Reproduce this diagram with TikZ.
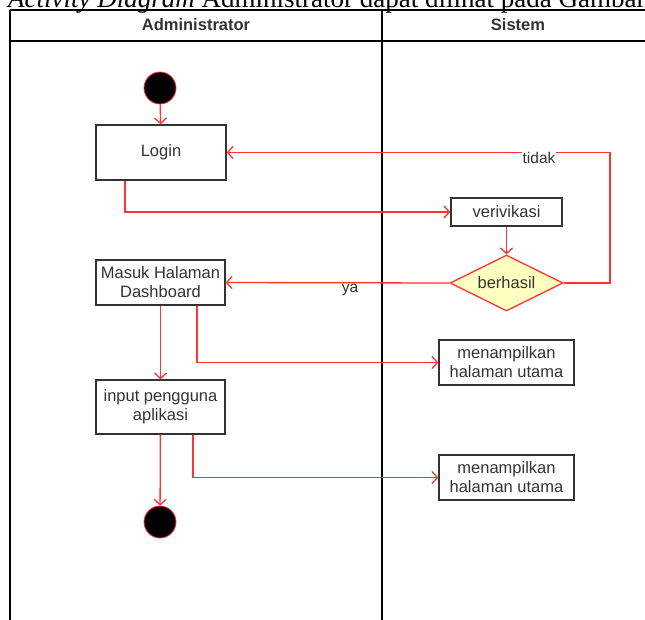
\documentclass[tikz,border=0pt]{standalone}
\usepackage{fontspec}
\setmainfont{Liberation Serif}
\newfontfamily\arialfont{Liberation Sans}
\usetikzlibrary{arrows.meta,shapes.geometric}
\definecolor{lred}{HTML}{FF3333}
\definecolor{dgray}{HTML}{333333}
\definecolor{lyellow}{HTML}{FFFFC0}
\begin{document}
\begin{tikzpicture}[x=1pt,y=-1pt,
  lane/.style={draw=black, line width=1.3pt},
  box/.style={draw=dgray, line width=1.3pt, fill=white, text=dgray, inner sep=0pt,
    font=\arialfont\fontsize{16.5}{19}\selectfont, align=center},
  dec/.style={diamond, draw=lred, line width=1.3pt, fill=lyellow, text=dgray, inner sep=0pt,
    font=\arialfont\fontsize{16.5}{19}\selectfont, aspect=2},
  dot/.style={circle, draw=lred, line width=0.8pt, fill=black, minimum size=32pt, inner sep=0pt},
  link/.style={draw=lred, line width=1.3pt, -{Straight Barb[length=5.5pt,width=12pt]}},
  lbl/.style={fill=white, text=dgray, inner sep=0.5pt, font=\arialfont\fontsize{15.5}{17}\selectfont},
  hdr/.style={text=dgray, font=\arialfont\bfseries\fontsize{16.5}{18}\selectfont}
]
\useasboundingbox (0,0) rectangle (645,619);
\clip (0,0) rectangle (645,619);
% caption (cut off at top)
\node[anchor=base west, inner sep=0pt, font=\fontsize{27}{30}\selectfont] (cap) at (8,7)
  {\textit{Activity Diagram} Administrator dapat dilihat pada Gambar};
% swimlanes
\draw[lane] (10,10) -- (646,10);
\draw[lane] (10,41) -- (646,41);
\draw[lane] (10,10) -- (10,620);
\draw[lane] (382,10) -- (382,620);
\node[hdr] (h1) at (196,25) {Administrator};
\node[hdr] (h2) at (518,25) {Sistem};
% nodes
\node[dot] (s) at (160,88) {};
\node[box, minimum width=130pt, minimum height=55pt] (login) at (161,152.5) {Login};
\node[box, minimum width=111pt, minimum height=28pt] (veri) at (506.5,212) {verivikasi};
\node[dec, minimum width=113pt, minimum height=56pt] (ber) at (506.5,283) {berhasil};
\node[box, minimum width=129pt, minimum height=45pt] (masuk) at (160.5,282.5) {Masuk Halaman\\Dashboard};
\node[box, minimum width=135pt, minimum height=45pt] (men1) at (506.5,362.5) {menampilkan\\halaman utama};
\node[box, minimum width=129pt, minimum height=54pt] (input) at (160.5,407) {input pengguna\\aplikasi};
\node[box, minimum width=135pt, minimum height=45pt] (men2) at (506.5,477.5) {menampilkan\\halaman utama};
\node[dot] (e) at (160,522) {};
% connectors
\draw[link] (s) -- (login);
\draw[link] ([xshift=-36pt]login.south) |- (veri.west);
\draw[link] (veri) -- (ber);
\coordinate (c1) at (610,283);
\draw[link] (ber.east) -- (c1) |- (login.east);
\node[lbl] (tidak) at (539,158) {tidak};
\draw[link] (ber.west) -- (masuk.east);
\node[lbl] (ya) at (350,290) {ya};
\draw[link] (masuk) -- (input);
\draw[link] ([xshift=36.5pt]masuk.south) |- (men1.west);
\draw[link] (input) -- (e);
\draw[link] ([xshift=32.5pt]input.south) |- (men2.west);
\end{tikzpicture}
\end{document}
